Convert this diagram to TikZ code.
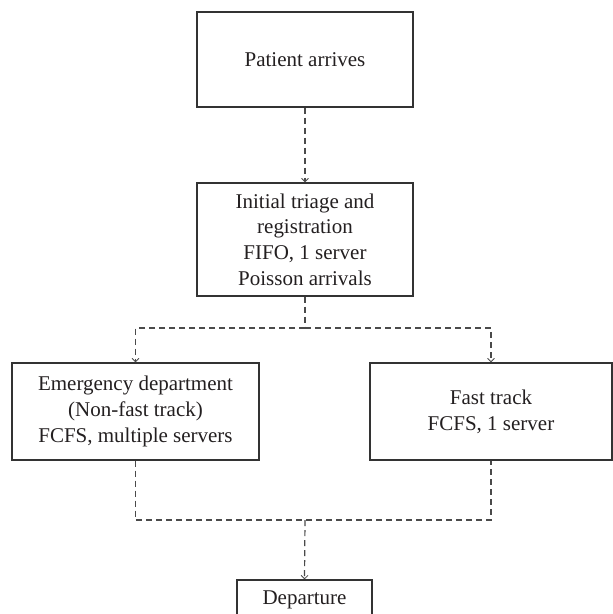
\documentclass[tikz,border=0pt]{standalone}
\usepackage{fontspec}
\setmainfont{Liberation Serif}
\usetikzlibrary{arrows.meta}
\definecolor{boxgray}{HTML}{333333}
\definecolor{textgray}{HTML}{231F20}
\definecolor{linegray}{HTML}{4A4A4A}
\begin{document}
\begin{tikzpicture}[x=1pt,y=-1pt,
  box/.style={draw=boxgray, line width=1.3pt, align=center, inner sep=0pt,
    text=textgray, font=\fontsize{21}{25.7}\selectfont},
  flow/.style={draw=linegray, line width=1.2pt, dash pattern=on 6pt off 4pt},
  tip/.style={-{Straight Barb[length=3.5pt,width=7pt,line width=0.8pt]}}
]
\useasboundingbox (0,0) rectangle (613,614);
\clip (0,0) rectangle (613,614);

\node[box, minimum width=216pt, minimum height=95pt] (arr) at (305,59.5) {Patient arrives};
\node[box, minimum width=216pt, minimum height=113pt] (tri) at (305,239.5)
  {Initial triage and\\registration\\FIFO, 1 server\\Poisson arrivals};
\node[box, minimum width=247pt, minimum height=97pt] (ed) at (135.5,411.5)
  {Emergency department\\(Non-fast track)\\FCFS, multiple servers};
\node[box, minimum width=242pt, minimum height=97pt] (ft) at (491,411.5)
  {Fast track\\FCFS, 1 server};
\node[box, minimum width=135pt, minimum height=40pt] (dep) at (304.5,600) {Departure};

\coordinate (split) at (305,328);
\coordinate (merge) at (305,520);

\draw[flow,tip] (arr.south) -- (tri.north);
\draw[flow] (tri.south) -- (split);
\draw[flow,tip] (split) -| (ed.north);
\draw[flow,tip] (split) -| (ft.north);
\draw[flow] (ed.south) |- (merge) -| (ft.south);
\draw[flow,tip] (merge) -- (dep.north);
\end{tikzpicture}
\end{document}
